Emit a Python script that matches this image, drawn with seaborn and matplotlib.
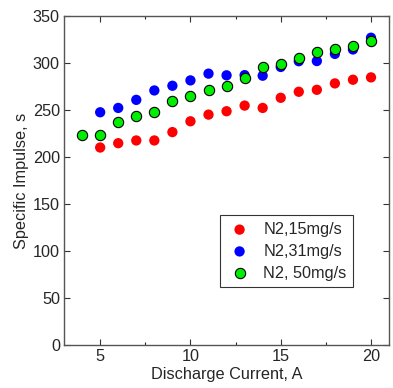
import numpy as np
import pandas as pd
import seaborn as sns
import matplotlib.pyplot as plt

# discharge current, A
current_15 = [5, 6, 7, 8, 9, 10, 11, 12, 13, 14, 15, 16, 17, 18, 19, 20]
isp_15 = [210, 214.6, 217.5, 217.5, 226.4, 237.9, 245, 248.6, 254.6, 252.1,
          262.9, 269.3, 271.4, 278.2, 282.1, 284.6]

current_31 = [5, 6, 7, 8, 9, 10, 11, 12, 13, 14, 15, 16, 17, 18, 19, 20]
isp_31 = [247.5, 252.1, 260.7, 270.7, 275.7, 281.4, 288.6, 286.8, 287, 286.4,
          295.7, 301.8, 302, 309.6, 314.3, 326.8]

current_50 = [4, 5, 6, 7, 8, 9, 10, 11, 12, 13, 14, 15, 16, 17, 18, 19, 20]
isp_50 = [223.6, 223.2, 237.1, 243.9, 247.9, 259.3, 265, 271.4, 275.4, 283.6,
          295.7, 298.6, 305.4, 311.1, 315, 317.5, 323.2]

labels = ["N2,15mg/s", "N2,31mg/s", "N2, 50mg/s"]

sns.set_style("ticks")
plt.rcParams['font.family'] = ['Liberation Sans', 'DejaVu Sans']
fs = 11.7

fig = plt.figure(figsize=(3.93, 3.88), dpi=100)
ax = fig.add_axes([0.163, 0.111, 0.827, 0.848])

sns.scatterplot(x=current_15, y=isp_15, ax=ax, color='#ff0000', s=55,
                edgecolor='none', label=labels[0], zorder=3)
sns.scatterplot(x=current_31, y=isp_31, ax=ax, color='#0000ff', s=55,
                edgecolor='none', label=labels[1], zorder=3)
sns.scatterplot(x=current_50, y=isp_50, ax=ax, color='#00ee00', s=55,
                edgecolor='black', linewidth=0.8, label=labels[2], zorder=4)

ax.set_xlim(3, 21)
ax.set_ylim(0, 350)
ax.set_xticks([5, 10, 15, 20])
ax.set_xticks([7.5, 12.5, 17.5], minor=True)
ax.set_yticks(np.arange(0, 351, 50))
ax.tick_params(direction='in', top=True, right=True, labelsize=fs,
               length=4, width=0.8, color='#333333', pad=3)
ax.tick_params(which='minor', direction='in', top=True, length=2.5, width=0.8)
for sp in ax.spines.values():
    sp.set_color('#555555')
    sp.set_linewidth(1)

ax.set_xlabel("Discharge Current, A", fontsize=fs, labelpad=2)
ax.set_ylabel("Specific Impulse, s", fontsize=fs, labelpad=3)

leg = ax.legend(loc='lower left', bbox_to_anchor=(0.48, 0.176), fontsize=fs,
                frameon=True, fancybox=False, handlelength=1.6,
                handletextpad=0.65, borderpad=0.4, labelspacing=0.42,
                borderaxespad=0)
leg.get_frame().set_edgecolor('black')
leg.get_frame().set_linewidth(0.8)

fig.savefig("out.png", dpi=100)
